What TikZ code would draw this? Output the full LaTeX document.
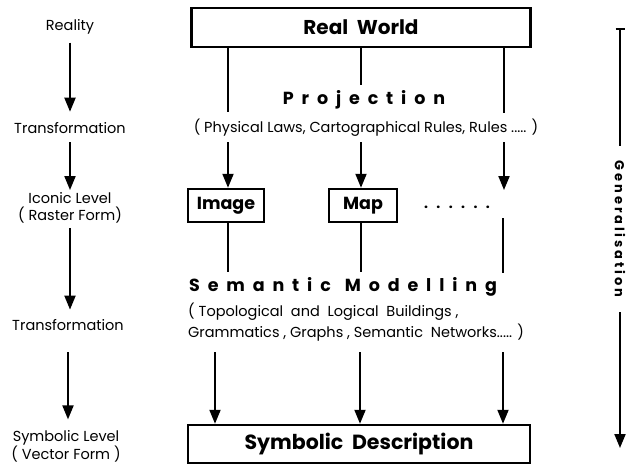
\documentclass[tikz,border=0pt]{standalone}
\usepackage{fontspec}
\setmainfont{Poppins}
\usetikzlibrary{arrows.meta,positioning}

\begin{document}
\begin{tikzpicture}[x=1pt,y=-1pt,
  lvl/.style={font=\fontsize{14.5}{17}\selectfont,align=center,inner sep=0pt},
  box/.style={draw,line width=2.5pt,inner sep=0pt,font=\bfseries\fontsize{17.5}{20}\selectfont},
  head/.style={inner sep=0pt,font=\bfseries\fontsize{17.5}{20}\selectfont\addfontfeature{LetterSpace=45}},
  note/.style={inner sep=0pt,font=\fontsize{14.5}{17}\selectfont},
  arr/.style={-{Triangle[length=14pt,width=11pt]},line width=2pt},
  ln/.style={line width=2pt}]
  \useasboundingbox (0,0) rectangle (632,467);
  % levels on the left
  \node[lvl] (reality) at (70,27) {Reality};
  \node[lvl] (trans1) at (70,128) {Transformation};
  \node[lvl] (iconic) at (70,208) {Iconic Level\\( Raster Form)};
  \node[lvl] (trans2) at (68,325) {Transformation};
  \node[lvl] (symlvl) at (66,446) {Symbolic Level\\( Vector Form )};
  \foreach \a/\b/\s/\t in {reality/trans1/8/10.5,trans1/iconic/8.6/2.4,iconic/trans2/4.4/9.6,trans2/symlvl/21.6/10.4}
    \draw[arr,shorten <=\s pt,shorten >=\t pt] (\a.south) -- (\a.south |- \b.north);
  % main column
  \node[box,minimum width=339pt,minimum height=39pt,font=\bfseries\fontsize{20}{22}\selectfont] (real) at (361,27.5) {Real\ \ World};
  \node[head] (proj) at (364,100) {Projection};
  \node[note] (laws) at (366,128) {( Physical Laws, Cartographical Rules, Rules ..... )};
  \node[box,minimum width=76pt,minimum height=33pt] (img) at (226,205.5) {Image};
  \node[box,minimum width=68pt,minimum height=33pt] (map) at (363,205.5) {Map};
  \node[font=\bfseries\fontsize{14}{16}\selectfont\addfontfeature{LetterSpace=60}] (dots) at (457,207) {......};
  \node[head] (sem) at (343,287) {Semantic\hspace{0.8em}Modelling};
  \node[note,anchor=west] (topo) at (188,312) {( Topological\ \ and\ \ Logical\ \ Buildings ,};
  \node[note,anchor=west] (gram) at (188,333) {Grammatics , Graphs , Semantic\ \ Networks..... )};
  \node[box,minimum width=342pt,minimum height=38pt,font=\bfseries\fontsize{20.5}{22}\selectfont] (desc) at (359,444) {Symbolic\ \ Description};
  % projection
  \coordinate (l1) at (228,112);
  \coordinate (m1) at (361,85);
  \coordinate (r1) at (504,113);
  \coordinate (l2) at (228,142);
  \coordinate (m2) at (361,142);
  \coordinate (r2) at (504,142);
  \coordinate (r3) at (504,190);
  \foreach \c in {l1,m1,r1}
    \draw[ln] (real.south -| \c) -- (\c);
  \draw[arr] (l2) -- (img.north -| l2);
  \draw[arr] (m2) -- (map.north -| m2);
  \draw[arr] (r2) -- (r3);
  % semantic modelling
  \coordinate (l4) at (228,272);
  \coordinate (m4) at (361,272);
  \coordinate (r4) at (503,218);
  \coordinate (r5) at (503,273);
  \draw[ln] (img.south -| l4) -- (l4);
  \draw[ln] (map.south -| m4) -- (m4);
  \draw[ln] (r4) -- (r5);
  \coordinate (l6) at (215,352);
  \coordinate (m6) at (360,352);
  \coordinate (r6) at (503,352);
  \foreach \c in {l6,m6,r6}
    \draw[arr] (\c) -- (desc.north -| \c);
  % generalisation
  \node[head,rotate=-90,font=\bfseries\fontsize{13}{14}\selectfont\addfontfeature{LetterSpace=22}] (gen) at (620,229) {Generalisation};
  \coordinate (gtop) at (620,28);
  \coordinate (gbot) at (620,448);
  \draw[ln,{Bar[width=9pt]}-,shorten >=15pt] (gtop) -- (gen);
  \draw[arr,shorten <=15pt] (gen) -- (gbot);
\end{tikzpicture}
\end{document}
